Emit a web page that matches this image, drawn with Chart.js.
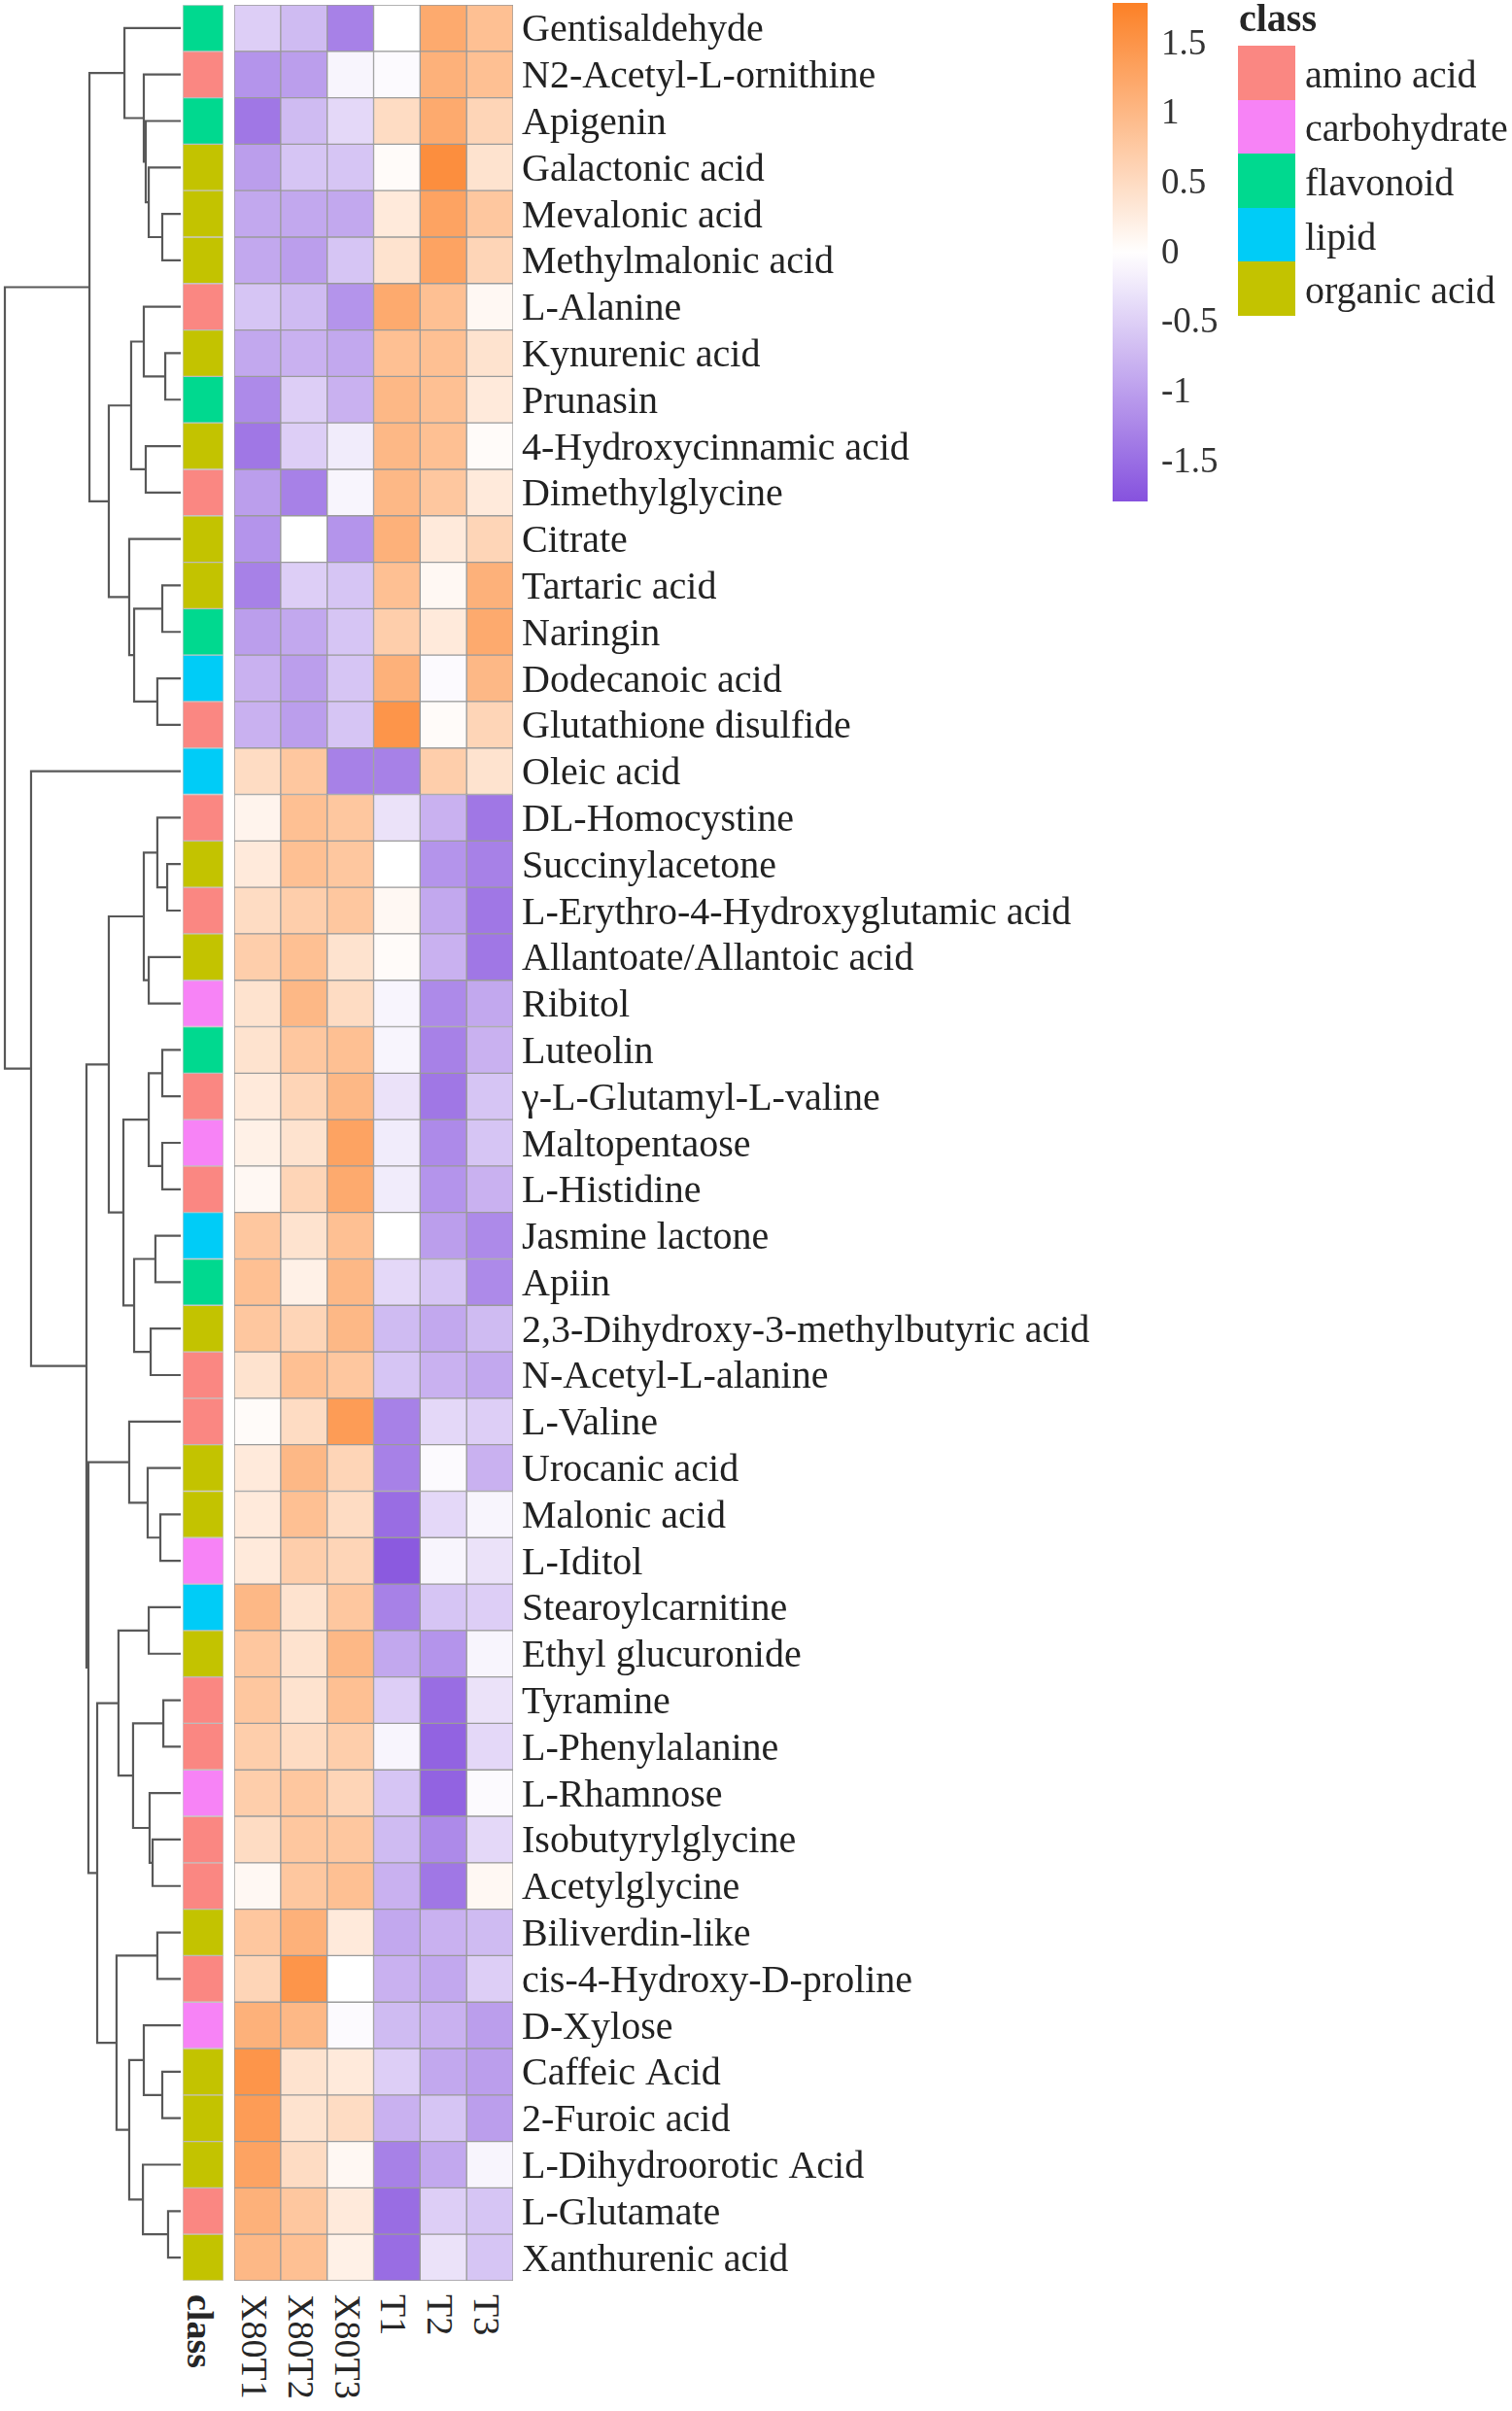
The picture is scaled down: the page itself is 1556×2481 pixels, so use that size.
<!DOCTYPE html>
<html>
<head>
<meta charset="utf-8">
<script src="https://cdn.jsdelivr.net/npm/chart.js@4.4.1/dist/chart.umd.min.js"></script>
<style>
  html, body { margin: 0; padding: 0; background: #fff; }
  #page { position: relative; width: 1556px; height: 2481px; overflow: hidden;
          font-family: "Liberation Serif", "DejaVu Serif", serif; color: #262626; }
  canvas { position: absolute; }
  .collab { position: absolute; top: 2361px; writing-mode: vertical-rl; font-size: 38px;
            line-height: 38px; width: 38px; white-space: nowrap; }
  .legtitle { position: absolute; left: 1275px; top: -3px; font-size: 40px; font-weight: bold; line-height: 44px; }
  .swatch { position: absolute; left: 1274px; width: 59px; }
  .leglab { position: absolute; left: 1343px; font-size: 40px; line-height: 44px; white-space: nowrap; }
</style>
</head>
<body>
<div id="page">
  <canvas id="dendro" width="186" height="2342" style="left:0;top:5px"></canvas>
  <canvas id="classCol" width="42" height="2342" style="left:188px;top:5px"></canvas>
  <canvas id="heat" width="900" height="2342" style="left:241px;top:5px"></canvas>
  <canvas id="colorbar" width="150" height="513" style="left:1145px;top:3px"></canvas>
</div>
<script>
// ==================== DATA ====================
const metabolites = [
  "Gentisaldehyde", "N2-Acetyl-L-ornithine", "Apigenin", "Galactonic acid", "Mevalonic acid",
  "Methylmalonic acid", "L-Alanine", "Kynurenic acid", "Prunasin", "4-Hydroxycinnamic acid",
  "Dimethylglycine", "Citrate", "Tartaric acid", "Naringin", "Dodecanoic acid",
  "Glutathione disulfide", "Oleic acid", "DL-Homocystine", "Succinylacetone",
  "L-Erythro-4-Hydroxyglutamic acid", "Allantoate/Allantoic acid", "Ribitol", "Luteolin",
  "γ-L-Glutamyl-L-valine", "Maltopentaose", "L-Histidine", "Jasmine lactone", "Apiin",
  "2,3-Dihydroxy-3-methylbutyric acid", "N-Acetyl-L-alanine", "L-Valine", "Urocanic acid",
  "Malonic acid", "L-Iditol", "Stearoylcarnitine", "Ethyl glucuronide", "Tyramine",
  "L-Phenylalanine", "L-Rhamnose", "Isobutyrylglycine", "Acetylglycine", "Biliverdin-like",
  "cis-4-Hydroxy-D-proline", "D-Xylose", "Caffeic Acid", "2-Furoic acid",
  "L-Dihydroorotic Acid", "L-Glutamate", "Xanthurenic acid"
];

const metaboliteClass = [
  "flavonoid", "amino acid", "flavonoid", "organic acid", "organic acid",
  "organic acid", "amino acid", "organic acid", "flavonoid", "organic acid",
  "amino acid", "organic acid", "organic acid", "flavonoid", "lipid",
  "amino acid", "lipid", "amino acid", "organic acid",
  "amino acid", "organic acid", "carbohydrate", "flavonoid",
  "amino acid", "carbohydrate", "amino acid", "lipid", "flavonoid",
  "organic acid", "amino acid", "amino acid", "organic acid",
  "organic acid", "carbohydrate", "lipid", "organic acid", "amino acid",
  "amino acid", "carbohydrate", "amino acid", "amino acid", "organic acid",
  "amino acid", "carbohydrate", "organic acid", "organic acid",
  "organic acid", "amino acid", "organic acid"
];

const classNames = ["amino acid", "carbohydrate", "flavonoid", "lipid", "organic acid"];
const classColors = ["#fa8782", "#f783f6", "#00d98f", "#00ccf7", "#c3c300"];

const samples = ["X80T1", "X80T2", "X80T3", "T1", "T2", "T3"];

// scaled abundance, one array per sample column (row order as metabolites)
const x80t1 = [-0.5, -1.1, -1.4, -1.0, -0.9, -0.9, -0.6, -0.9, -1.2, -1.4,
  -1.0, -1.1, -1.3, -1.0, -0.8, -0.8, 0.5, 0.15, 0.3, 0.5,
  0.7, 0.4, 0.4, 0.3, 0.2, 0.1, 0.8, 0.9, 0.8, 0.4,
  0.05, 0.3, 0.3, 0.3, 1.0, 0.8, 0.8, 0.7, 0.7, 0.5,
  0.1, 0.8, 0.6, 1.1, 1.5, 1.4, 1.3, 1.1, 1.0];
const x80t2 = [-0.7, -1.0, -0.7, -0.6, -0.9, -1.0, -0.7, -0.8, -0.5, -0.5,
  -1.3, 0.0, -0.5, -0.9, -1.0, -1.0, 0.8, 0.9, 0.9, 0.7,
  0.9, 1.0, 0.8, 0.6, 0.4, 0.6, 0.4, 0.2, 0.6, 0.9,
  0.5, 1.0, 0.9, 0.7, 0.4, 0.4, 0.4, 0.5, 0.8, 0.8,
  0.8, 1.1, 1.5, 1.0, 0.4, 0.4, 0.5, 0.8, 0.9];
const x80t3 = [-1.3, -0.1, -0.4, -0.6, -0.9, -0.6, -1.1, -0.9, -0.8, -0.2,
  -0.1, -1.1, -0.6, -0.6, -0.6, -0.6, -1.3, 0.8, 0.8, 0.8,
  0.4, 0.5, 0.9, 1.0, 1.3, 1.2, 0.9, 1.0, 1.0, 0.8,
  1.4, 0.6, 0.5, 0.6, 0.8, 1.0, 0.9, 0.7, 0.6, 0.8,
  0.9, 0.3, 0.0, -0.05, 0.3, 0.5, 0.1, 0.3, 0.2];
const t1 = [0.0, -0.05, 0.5, 0.05, 0.3, 0.4, 1.2, 0.9, 1.0, 1.0,
  1.0, 1.1, 0.9, 0.7, 1.1, 1.5, -1.3, -0.3, 0.0, 0.1,
  0.05, -0.1, -0.1, -0.3, -0.2, -0.2, 0.0, -0.4, -0.7, -0.6,
  -1.3, -1.3, -1.5, -1.7, -1.3, -0.9, -0.5, -0.1, -0.6, -0.7,
  -0.8, -0.9, -0.8, -0.7, -0.5, -0.8, -1.3, -1.5, -1.5];
const t2 = [1.2, 1.1, 1.2, 1.6, 1.3, 1.3, 0.9, 0.9, 0.9, 0.9,
  0.8, 0.3, 0.1, 0.3, -0.05, 0.05, 0.7, -0.8, -1.1, -0.9,
  -0.8, -1.2, -1.3, -1.4, -1.2, -1.1, -1.0, -0.6, -0.9, -0.8,
  -0.4, -0.05, -0.4, -0.1, -0.6, -1.1, -1.5, -1.6, -1.6, -1.2,
  -1.4, -0.8, -0.9, -0.8, -0.9, -0.6, -0.9, -0.5, -0.3];
const t3 = [0.9, 0.9, 0.6, 0.4, 0.8, 0.6, 0.1, 0.4, 0.3, 0.05,
  0.3, 0.6, 1.1, 1.2, 1.0, 0.6, 0.4, -1.4, -1.3, -1.4,
  -1.4, -0.9, -0.8, -0.6, -0.6, -0.8, -1.2, -1.2, -0.7, -0.9,
  -0.5, -0.8, -0.1, -0.3, -0.5, -0.1, -0.3, -0.4, -0.05, -0.4,
  0.1, -0.7, -0.5, -1.0, -1.0, -1.0, -0.1, -0.6, -0.6];

// row dendrogram, hclust style: negative = leaf -(row+1), positive = earlier merge (1-based)
const mergeLeft = [-5, -4, -3, -2, -1, -8, -7, -10, 7, -13, -15, 10, -12, 9, 5,
  -19, -18, -21, 17, -23, -25, 20, -27, -29, 23, 22, 19,
  -33, -32, -31, -35, -37, -40, -39, 32, 31, -42, -45, -44, -48, -47, 39, 37, 36, 30, 27, -17, 15];
const mergeRight = [-6, 1, 2, 3, 4, -9, 6, -11, 8, -14, -16, 11, 12, 13, 14,
  -20, 16, -22, 18, -24, -26, 21, -28, -30, 24, 25, 26,
  -34, 28, 29, -36, -38, -41, 33, 34, 35, -43, -46, 38, -49, 40, 41, 42, 43, 44, 45, 46, 47];
const mergeHeight = [1.05, 1.82, 1.99, 2.10, 3.20, 0.88, 2.10, 1.99, 2.82, 1.05, 1.33, 2.65, 2.93, 4.09, 5.19,
  0.77, 1.33, 1.82, 2.10, 1.05, 1.05, 1.82, 1.44, 1.71, 2.65, 3.26, 4.09,
  1.16, 1.88, 2.93, 1.82, 0.99, 1.60, 1.77, 2.71, 3.54, 1.33, 1.05, 2.10, 0.72, 2.15, 2.93, 3.65, 4.75, 5.25, 5.36, 8.51, 10.0];

const colorTicks = [-1.5, -1, -0.5, 0, 0.5, 1, 1.5];
const zMin = -1.78;
const zMax = 1.8;

// ==================== COLOURS ====================
const lowRGB = [134, 82, 222];
const midRGB = [255, 255, 255];
const highRGB = [252, 128, 38];

function heatColor(v) {
    const t = v >= 0 ? Math.min(v / zMax, 1) : Math.min(v / zMin, 1);
    const end = v >= 0 ? highRGB : lowRGB;
    const c = midRGB.map((m, i) => Math.round(m + (end[i] - m) * t));
    return `rgb(${c[0]},${c[1]},${c[2]})`;
}

const serif = "'Liberation Serif', 'DejaVu Serif', serif";
const baseOpts = {
    responsive: false,
    animation: false,
    events: [],
    plugins: { legend: { display: false }, tooltip: { enabled: false } },
};

// ==================== DENDROGRAM ====================
const nodePos = [];
function nodeAt(code) {
    return code < 0 ? { x: 0, y: -code - 1 } : nodePos[code - 1];
}
const dendroSets = mergeLeft.map((a, k) => {
    const A = nodeAt(a);
    const B = nodeAt(mergeRight[k]);
    const h = mergeHeight[k];
    nodePos.push({ x: h, y: (A.y + B.y) / 2 });
    return {
        data: [{ x: A.x, y: A.y }, { x: h, y: A.y }, { x: h, y: B.y }, { x: B.x, y: B.y }],
        showLine: true,
        borderColor: "#585858",
        borderWidth: 2.2,
        pointRadius: 0,
        tension: 0,
        clip: false,
    };
});

new Chart(document.getElementById("dendro"), {
    type: "scatter",
    data: { datasets: dendroSets },
    options: {
        ...baseOpts,
        layout: { padding: { left: 5, right: 0, top: 0, bottom: 0 } },
        scales: {
            x: { type: "linear", min: 0, max: 10, reverse: true, display: false },
            y: { type: "linear", min: -0.5, max: metabolites.length - 0.5, reverse: true, display: false },
        },
    },
});

// ==================== CLASS ANNOTATION ====================
new Chart(document.getElementById("classCol"), {
    type: "bar",
    data: {
        labels: metabolites,
        datasets: [{
            data: metabolites.map(() => 1),
            backgroundColor: metaboliteClass.map(c => classColors[classNames.indexOf(c)]),
            borderColor: "rgba(140,140,140,0.45)",
            borderWidth: 1,
            borderSkipped: false,
            barPercentage: 1,
            categoryPercentage: 1,
        }],
    },
    options: {
        ...baseOpts,
        indexAxis: "y",
        layout: { padding: 0 },
        scales: {
            x: { min: 0, max: 1, display: false },
            y: { display: false },
        },
    },
});

// ==================== HEATMAP ====================
const sampleValues = [x80t1, x80t2, x80t3, t1, t2, t3];

new Chart(document.getElementById("heat"), {
    type: "bar",
    data: {
        labels: metabolites,
        datasets: sampleValues.map((vals, j) => ({
            label: samples[j],
            data: vals.map(() => 1),
            backgroundColor: vals.map(heatColor),
            borderColor: "#9a9a9a",
            borderWidth: 1,
            borderSkipped: false,
            barPercentage: 1,
            categoryPercentage: 1,
        })),
    },
    options: {
        ...baseOpts,
        indexAxis: "y",
        layout: { padding: 0 },
        scales: {
            x: { stacked: true, min: 0, max: samples.length, display: false },
            y: {
                stacked: true,
                position: "right",
                grid: { display: false, drawTicks: false },
                border: { display: false },
                ticks: {
                    autoSkip: false,
                    padding: 9,
                    labelOffset: 3,
                    color: "#222",
                    font: { family: serif, size: 40 },
                },
                afterFit: (s) => { s.width = 613; s.paddingTop = 0; s.paddingBottom = 0; },
            },
        },
    },
});

// ==================== COLOUR KEY ====================
function barGradient(chart) {
    const area = chart.chartArea;
    if (!area) return heatColor(0);
    const y = chart.scales.y;
    const g = chart.ctx.createLinearGradient(0, y.getPixelForValue(zMin), 0, y.getPixelForValue(zMax));
    const steps = 24;
    for (let i = 0; i <= steps; i++) {
        const v = zMin + (zMax - zMin) * i / steps;
        g.addColorStop(i / steps, heatColor(v));
    }
    return g;
}

new Chart(document.getElementById("colorbar"), {
    type: "bar",
    data: {
        labels: [""],
        datasets: [{
            data: [[zMin, zMax]],
            backgroundColor: (ctx) => barGradient(ctx.chart),
            borderWidth: 0,
            barPercentage: 1,
            categoryPercentage: 1,
        }],
    },
    options: {
        ...baseOpts,
        layout: { padding: 0 },
        scales: {
            x: { display: false },
            y: {
                min: zMin,
                max: zMax,
                position: "right",
                grid: { display: false, drawTicks: false },
                border: { display: false },
                afterBuildTicks: (s) => { s.ticks = colorTicks.map(v => ({ value: v })); },
                ticks: {
                    padding: 14,
                    color: "#333",
                    font: { family: serif, size: 37 },
                    callback: (v) => String(v),
                },
                afterFit: (s) => { s.width = 114; s.paddingTop = 0; s.paddingBottom = 0; },
            },
        },
    },
});

// ==================== HTML LABELS ====================
const page = document.getElementById("page");

// column labels under the heatmap
const colCentres = [209].concat(samples.map((_, j) => 241 + 47.83 * (j + 0.5)));
["class"].concat(samples).forEach((txt, i) => {
    const d = document.createElement("div");
    d.className = "collab";
    d.textContent = txt;
    d.style.left = (colCentres[i] - 19 - 3) + "px";
    if (i === 0) d.style.fontWeight = "bold";
    page.appendChild(d);
});

// class legend
const title = document.createElement("div");
title.className = "legtitle";
title.textContent = "class";
page.appendChild(title);
const swatchH = 55.6;
classNames.forEach((name, i) => {
    const s = document.createElement("div");
    s.className = "swatch";
    s.style.top = (47 + swatchH * i) + "px";
    s.style.height = swatchH + "px";
    s.style.background = classColors[i];
    page.appendChild(s);
    const l = document.createElement("div");
    l.className = "leglab";
    l.textContent = name;
    l.style.top = (47 + swatchH * i + swatchH / 2 - 22 + 2) + "px";
    page.appendChild(l);
});
</script>
</body>
</html>
